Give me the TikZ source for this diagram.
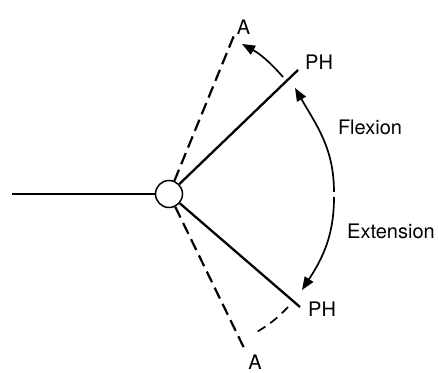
\documentclass[tikz,border=0pt]{standalone}
\usepackage{fontspec}
\setmainfont{TeX Gyre Heros}
\usetikzlibrary{arrows.meta}

\begin{document}
\begin{tikzpicture}[
    x=1pt, y=1pt,
    font=\fontsize{20}{24}\selectfont,
    bone/.style={line width=2.3pt},
    axis/.style={line width=2.2pt, dash pattern=on 12pt off 6pt},
    sweep/.style={line width=1.7pt, dash pattern=on 9pt off 6pt},
    motion/.style={line width=1.7pt, -{Triangle[length=13pt,width=10pt]}},
    lbl/.style={inner sep=0pt, anchor=base},
  ]
  \useasboundingbox (0,0) rectangle (438,372);

  %% ── Joint and segments ────────────────────────────────────
  \node[circle, draw, fill=white, line width=1.5pt,
        minimum size=27pt, inner sep=0pt] (joint) at (169,178) {};
  \coordinate (prox)   at (12,178);
  \coordinate (phup)   at (298,302);
  \coordinate (aup)    at (235,339);
  \coordinate (phdown) at (300,65);
  \coordinate (adown)  at (245,22);

  \draw[bone] (prox) -- (joint);
  \draw[bone] (joint) -- (phup);
  \draw[bone] (joint) -- (phdown);
  \draw[axis] (joint) -- (aup);
  \draw[axis] (joint) -- (adown);

  %% ── Labels ────────────────────────────────────────────────
  \node[lbl] (atop)    at (243.5,337) {A};
  \node[lbl, anchor=base west] (phtop) at (305,302) {PH};
  \node[lbl] (flexlbl) at (370,237) {Flexion};
  \node[lbl] (extlbl)  at (391,134) {Extension};
  \node[lbl, anchor=base west] (phbot) at (308,56) {PH};
  \node[lbl] (abot)    at (255,3) {A};

  %% ── Motion arcs ───────────────────────────────────────────
  \coordinate (flexfrom) at (334,180);
  \coordinate (flexto)   at (295,284);
  \coordinate (extfrom)  at (334,175);
  \coordinate (extto)    at (302,82);
  \coordinate (hypfrom)  at (283,295);
  \coordinate (hypto)    at (242,328);
  \coordinate (limfrom)  at (288,65);
  \coordinate (limto)    at (255,39);

  \draw[motion] (flexfrom) to[out=90, in=-60] (flexto);
  \draw[motion] (extfrom) to[out=-90, in=57] (extto);
  \draw[motion] (hypfrom) to[bend right=10] (hypto);
  \draw[sweep]  (limfrom) to[bend left=8] (limto);

\end{tikzpicture}
\end{document}
